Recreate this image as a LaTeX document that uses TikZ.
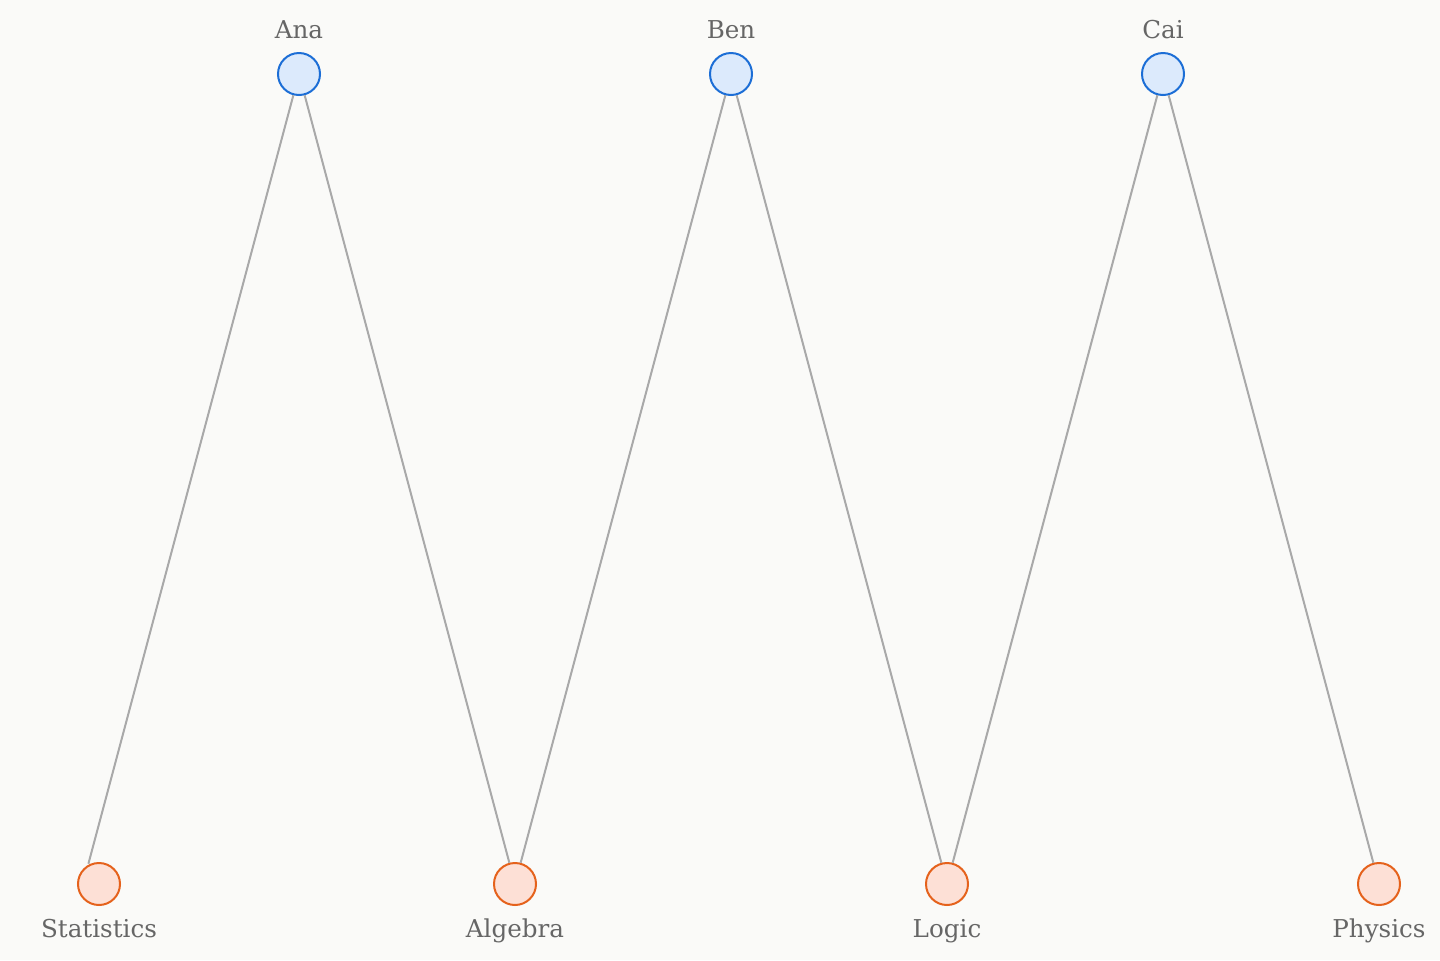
\documentclass[tikz,border=0pt]{standalone}
\usepackage{fontspec}
\setmainfont{DejaVu Serif}
\usetikzlibrary{positioning}
\definecolor{bgpaper}{HTML}{FAFAF8}
\definecolor{pline}{HTML}{1C6ED6}
\definecolor{pfill}{HTML}{DCEAFC}
\definecolor{tline}{HTML}{E5621C}
\definecolor{tfill}{HTML}{FDE0D6}
\definecolor{edgegray}{HTML}{A9A9A9}
\definecolor{textgray}{HTML}{666666}
\tikzset{person/.style={draw=pline,fill=pfill,circle,minimum size=21pt,inner
sep=0pt,line width=1pt},topic/.style={draw=tline,fill=tfill,circle,minimum
size=21pt,inner sep=0pt,line width=1pt}}
\tikzset{nodetitle/.style={text=textgray,font=\fontsize{12.3}{14}\selectfont,anchor=base,inner sep=0pt},
        link/.style={draw=edgegray,line width=1pt}}

\begin{document}
\begin{tikzpicture}[x=0.5pt,y=-0.5pt]
		\fill[bgpaper] (0,0) rectangle (1440,960);

		% people
		\node[person] (Ana) at (299,74) {};
		\node[person] (Ben) at (731,74) {};
		\node[person] (Cai) at (1163,74) {};

		% subjects
		\node[topic] (Stat) at (99,884) {};
		\node[topic] (Alg) at (515,884) {};
		\node[topic] (Log) at (947,884) {};
		\node[topic] (Phys) at (1379,884) {};
		\coordinate (StatAim) at (83,884);

		\node[nodetitle] (AnaL) at (299,38) {Ana};
		\node[nodetitle] (BenL) at (731,38) {Ben};
		\node[nodetitle] (CaiL) at (1163,38) {Cai};
		\node[nodetitle] (StatL) at (99,937) {Statistics};
		\node[nodetitle] (AlgL) at (515,937) {Algebra};
		\node[nodetitle] (LogL) at (947,937) {Logic};
		\node[nodetitle] (PhysL) at (1379,937) {Physics};

		\draw[link,shorten >=10.5pt] (Ana) -- (StatAim);
		\draw[link] (Ana) -- (Alg);
		\draw[link] (Ben) -- (Alg);
		\draw[link] (Ben) -- (Log);
		\draw[link] (Cai) -- (Log);
		\draw[link] (Cai) -- (Phys);
	\end{tikzpicture}
\end{document}
